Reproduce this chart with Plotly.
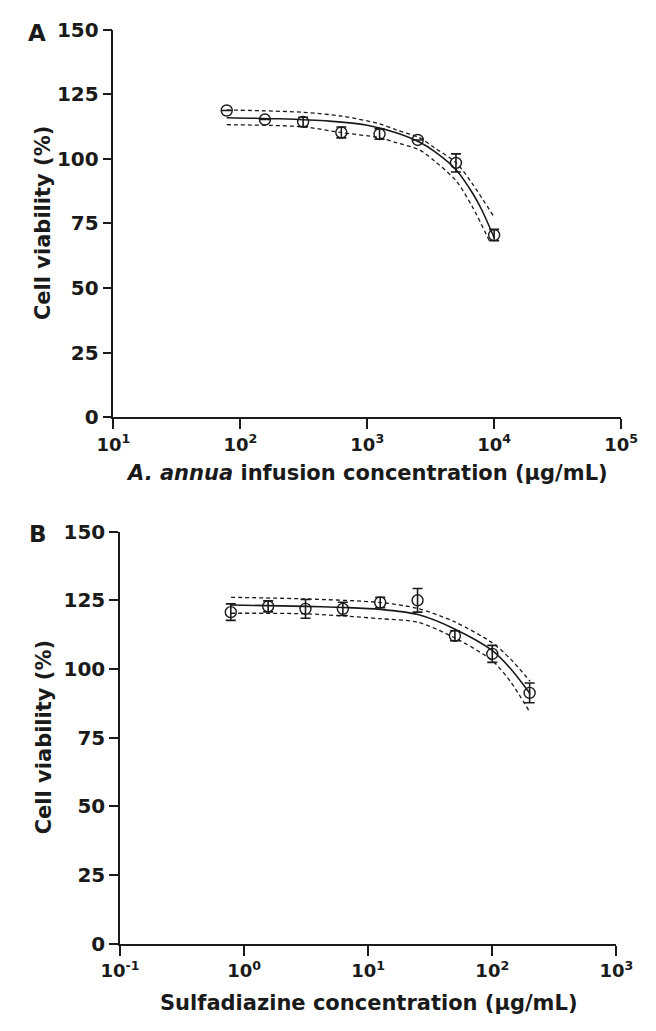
import numpy as np
import plotly.graph_objects as go

# ---------------- Panel A data (A. annua infusion) ----------------
a_conc = [78.125, 156.25, 312.5, 625, 1250, 2500, 5000, 10000]
a_viab = [118.7, 115.2, 114.3, 110.2, 109.6, 107.3, 98.4, 70.5]
a_err = [None, None, 1.8, 2.1, 2.0, None, 3.5, 2.2]

a_fit_logx = [1.893, 2.3, 2.7, 3.0, 3.234, 3.41, 3.532, 3.7, 3.829, 3.9, 4.0]
a_fit_y = [115.9, 115.5, 114.6, 113.0, 110.0, 106.5, 102.8, 95.8, 86.8, 80.5, 69.5]
a_up_logx = [1.893, 2.5, 2.8, 3.093, 3.234, 3.41, 3.532, 3.7, 3.829, 4.0]
a_up_y = [118.9, 118.0, 116.5, 113.6, 111.1, 108.2, 104.2, 98.5, 90.3, 77.5]
a_lo_logx = [1.893, 2.49, 2.79, 3.093, 3.234, 3.41, 3.532, 3.7, 3.829, 3.97]
a_lo_y = [113.2, 112.4, 110.2, 108.2, 106.2, 103.5, 99.1, 91.5, 81.4, 67.5]

# ---------------- Panel B data (Sulfadiazine) ----------------
b_conc = [0.78125, 1.5625, 3.125, 6.25, 12.5, 25, 50, 100, 200]
b_viab = [120.7, 122.8, 121.9, 121.9, 124.2, 125.0, 112.1, 105.5, 91.3]
b_err = [3.0, 2.0, 3.4, 2.4, 1.9, 4.3, 1.8, 3.1, 3.6]

b_fit_logx = [-0.105, 0.496, 0.797, 1.099, 1.401, 1.700, 2.004, 2.15, 2.305]
b_fit_y = [123.3, 122.8, 122.4, 121.7, 119.8, 114.5, 106.6, 100.0, 91.0]
b_up_logx = [-0.105, 0.496, 1.099, 1.401, 1.700, 2.0, 2.15, 2.305]
b_up_y = [126.1, 125.5, 124.2, 122.0, 117.1, 109.5, 103.5, 95.5]
b_lo_logx = [-0.105, 0.496, 0.797, 1.099, 1.401, 1.700, 2.0, 2.15, 2.30]
b_lo_y = [120.3, 120.1, 119.3, 118.3, 117.0, 111.3, 103.0, 95.2, 84.5]

y_ticks = [0, 25, 50, 75, 100, 125, 150]
a_xtick_exp = [1, 2, 3, 4, 5]
b_xtick_exp = [-1, 0, 1, 2, 3]

# ---------------- Figure ----------------
W, H = 656, 1031
INK = "#1a1a1a"
FONT = "'DejaVu Sans', Arial, sans-serif"

fig = go.Figure()


def add_panel(xa, ya, conc, viab, err, fx, fy, ux, uy, lx, ly):
    xr = "x" if xa == 1 else f"x{xa}"
    yr = "y" if ya == 1 else f"y{ya}"
    for bx, by in ((ux, uy), (lx, ly)):
        fig.add_trace(go.Scatter(
            x=10 ** np.array(bx), y=by, mode="lines", xaxis=xr, yaxis=yr,
            line=dict(color=INK, width=1.3, dash="4px,3px", shape="spline", smoothing=0.8),
            hoverinfo="skip"))
    fig.add_trace(go.Scatter(
        x=10 ** np.array(fx), y=fy, mode="lines", xaxis=xr, yaxis=yr,
        line=dict(color=INK, width=1.6, shape="spline", smoothing=0.8),
        hoverinfo="skip"))
    fig.add_trace(go.Scatter(
        x=conc, y=viab, mode="markers", xaxis=xr, yaxis=yr,
        marker=dict(symbol="circle-open", size=11, color=INK, line=dict(width=1.4, color=INK)),
        error_y=dict(type="data", array=err, visible=True, color=INK, thickness=1.6, width=5),
        cliponaxis=False))


add_panel(1, 1, a_conc, a_viab, a_err, a_fit_logx, a_fit_y, a_up_logx, a_up_y, a_lo_logx, a_lo_y)
add_panel(2, 2, b_conc, b_viab, b_err, b_fit_logx, b_fit_y, b_up_logx, b_up_y, b_lo_logx, b_lo_y)

axis_common = dict(
    showline=True, linecolor=INK, linewidth=1.5, mirror=False,
    ticks="outside", ticklen=10, tickwidth=1.5, tickcolor=INK,
    showgrid=False, zeroline=False,
)
yfont = dict(family=FONT, size=20, color=INK, weight="bold")
xfont = dict(family=FONT, size=18, color=INK, weight="bold")

# pixel geometry
A_x = (99, 637); A_y = (18, 415)
B_x = (106, 632); B_y = (532, 954)


def xd(p):
    return [p[0] / W, p[1] / W]


def yd(p):
    return [1 - p[1] / H, 1 - p[0] / H]


fig.update_layout(
    width=W, height=H,
    margin=dict(l=0, r=0, t=0, b=0),
    paper_bgcolor="white", plot_bgcolor="white",
    showlegend=False,
    font=dict(family=FONT, color=INK, weight="bold"),
    xaxis=dict(axis_common, type="log", range=[1, 5], domain=xd(A_x), anchor="y",
               tickfont=xfont,
               tickvals=[10 ** e for e in a_xtick_exp],
               ticktext=[f"10<sup>{e}</sup>" for e in a_xtick_exp]),
    yaxis=dict(axis_common, range=[0, 150], domain=yd(A_y), anchor="x",
               tickfont=yfont, tickvals=y_ticks, ticklen=9),
    xaxis2=dict(axis_common, type="log", range=[-1, 3], domain=xd(B_x), anchor="y2",
                tickfont=xfont,
                tickvals=[10 ** e for e in b_xtick_exp],
                ticktext=[f"10<sup>{e}</sup>" for e in b_xtick_exp]),
    yaxis2=dict(axis_common, range=[0, 150], domain=yd(B_y), anchor="x2",
                tickfont=yfont, tickvals=y_ticks, ticklen=9),
)


def ann(text, x, y, size, angle=0):
    fig.add_annotation(text=text, x=x / W, y=1 - y / H, xref="paper", yref="paper",
                       showarrow=False, textangle=angle, xanchor="center", yanchor="middle",
                       font=dict(family=FONT, size=size, color=INK, weight="bold"))


ann("A", 18, 21, 23)
ann("B", 19, 534, 23)
ann("Cell viability (%)", 25, (A_y[0] + A_y[1]) / 2, 21, -90)
ann("Cell viability (%)", 25, (B_y[0] + B_y[1]) / 2, 21, -90)
ann("<i>A. annua</i> infusion concentration (µg/mL)", (A_x[0] + A_x[1]) / 2, 472, 21)
ann("Sulfadiazine concentration (µg/mL)", (B_x[0] + B_x[1]) / 2, 1015, 21)

fig.write_html("out.html")
